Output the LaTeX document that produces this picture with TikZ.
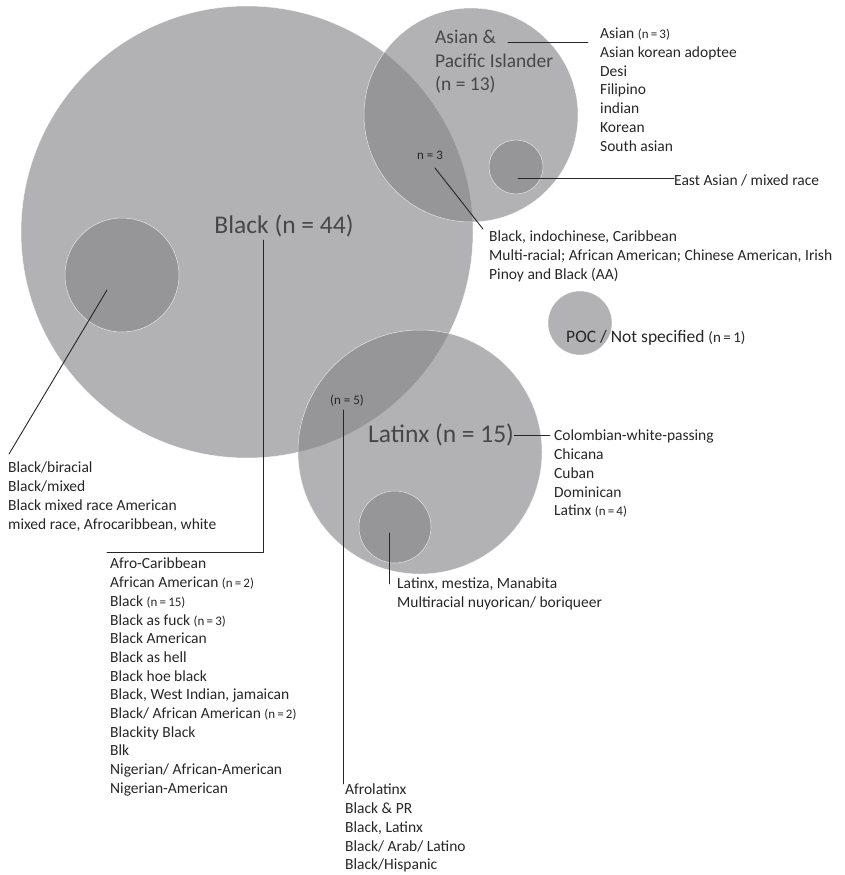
\documentclass[tikz,border=0pt]{standalone}
\usepackage{fontspec}
\setmainfont{Carlito}
\usetikzlibrary{positioning}
\definecolor{venngray}{RGB}{134,134,138}
\definecolor{ink}{RGB}{38,38,40}
\newcommand\ncount[2][13]{{\fontsize{#1}{12}\selectfont(n\,=\,#2)}}

\begin{document}
\begin{tikzpicture}[x=1pt,y=-1pt,line cap=round,line join=round,
  blob/.style={circle,inner sep=0pt,fill=venngray,fill opacity=0.64,draw=white,draw opacity=0.7,line width=0.5pt},
  biglab/.style={inner sep=0pt,text=ink!85,font=\fontsize{25.5}{28}\selectfont},
  midlab/.style={inner sep=0pt,anchor=north west,align=left,text=ink!85,font=\fontsize{19.5}{23.5}\selectfont},
  small/.style={inner sep=0pt,text=ink,font=\fontsize{13}{14}\selectfont},
  list/.style={inner sep=0pt,anchor=north west,align=left,text=ink,font=\fontsize{15.5}{18.7}\selectfont},
  lead/.style={draw=ink,line width=0.9pt}]
\useasboundingbox (0,0) rectangle (844,875);
% circles
\node[blob,minimum size=452] (black) at (247,232) {};
\node[blob,minimum size=214] (asian) at (471,115) {};
\node[blob,minimum size=244] (latinx) at (420,452) {};
\node[blob,minimum size=64] (poc) at (580,323) {};
\node[blob,minimum size=114] (blackin) at (122,275) {};
\node[blob,minimum size=54] (asianin) at (516,167) {};
\node[blob,minimum size=72] (latinxin) at (395,527) {};
% big labels
\node[biglab] (blacklab) at (284,226) {Black (n = 44)};
\node[biglab,anchor=west] (latinxlab) at (368,435) {Latinx (n = 15)};
\node[midlab] (asianlab) at (435,30) {Asian \&\\Pacific Islander\\(n = 13)};
\node[list,anchor=west,font=\fontsize{17.5}{20}\selectfont] (poclab) at (566,338) {POC / Not specified \ncount[15]{1}};
\node[small] (twin) at (430,155) {n = 3};
\node[small] (trio) at (347,401) {(n = 5)};
% lists
\node[list] (asianlist) at (600,28) {Asian \ncount{3}\\Asian korean adoptee\\Desi\\Filipino\\indian\\Korean\\South asian};
\node[list,anchor=west] (asianinlab) at (674,180) {East Asian / mixed race};
\node[list] (twinlist) at (489,231) {Black, indochinese, Caribbean\\Multi-racial; African American; Chinese American, Irish\\Pinoy and Black (AA)};
\node[list] (latinxlist) at (554,430) {Colombian-white-passing\\Chicana\\Cuban\\Dominican\\Latinx \ncount{4}};
\node[list] (latinxinlist) at (397,578) {Latinx, mestiza, Manabita\\Multiracial nuyorican/ boriqueer};
\node[list] (blackinlist) at (8,462) {Black/biracial\\Black/mixed\\Black mixed race American\\mixed race, Afrocaribbean, white};
\node[list] (blacklist) at (110,558) {Afro-Caribbean\\African American \ncount{2}\\Black \ncount{15}\\Black as fuck \ncount{3}\\Black American\\Black as hell\\Black hoe black\\Black, West Indian, jamaican\\Black/ African American \ncount{2}\\Blackity Black\\Blk\\Nigerian/ African-American\\Nigerian-American};
\node[list] (triolist) at (345,784) {Afrolatinx\\Black \& PR\\Black, Latinx\\Black/ Arab/ Latino\\Black/Hispanic};
% leader lines
\coordinate (asianfoot) at (508,42);
\coordinate (asianhead) at (588,42);
\coordinate (asianinfoot) at (518,178);
\coordinate (blackfoot) at (263,240);
\coordinate (blackbend) at (107,552);
\coordinate (twinfoot) at (435,168);
\coordinate (triofoot) at (343,410);
\coordinate (latinxinfoot) at (389,533);
\coordinate (blackinfoot) at (107,290);
\coordinate (blackinhead) at (9,454);
\draw[lead] (asianfoot) -- (asianhead);
\draw[lead] (asianinfoot) -- (asianinfoot -| asianinlab.west);
\draw[lead] (twinfoot) -- ([xshift=-6,yshift=2]twinlist.north west);
\draw[lead] (latinxlab.east) -- ([xshift=-4]latinxlab.east -| latinxlist.west);
\draw[lead] (latinxinfoot) -- ([yshift=-6]latinxinlist.north west -| latinxinfoot);
\draw[lead] (blackinfoot) -- (blackinhead);
\draw[lead] (blackfoot) |- (blackbend);
\draw[lead] (triofoot) -- (triofoot |- triolist.north west);
\end{tikzpicture}
\end{document}
